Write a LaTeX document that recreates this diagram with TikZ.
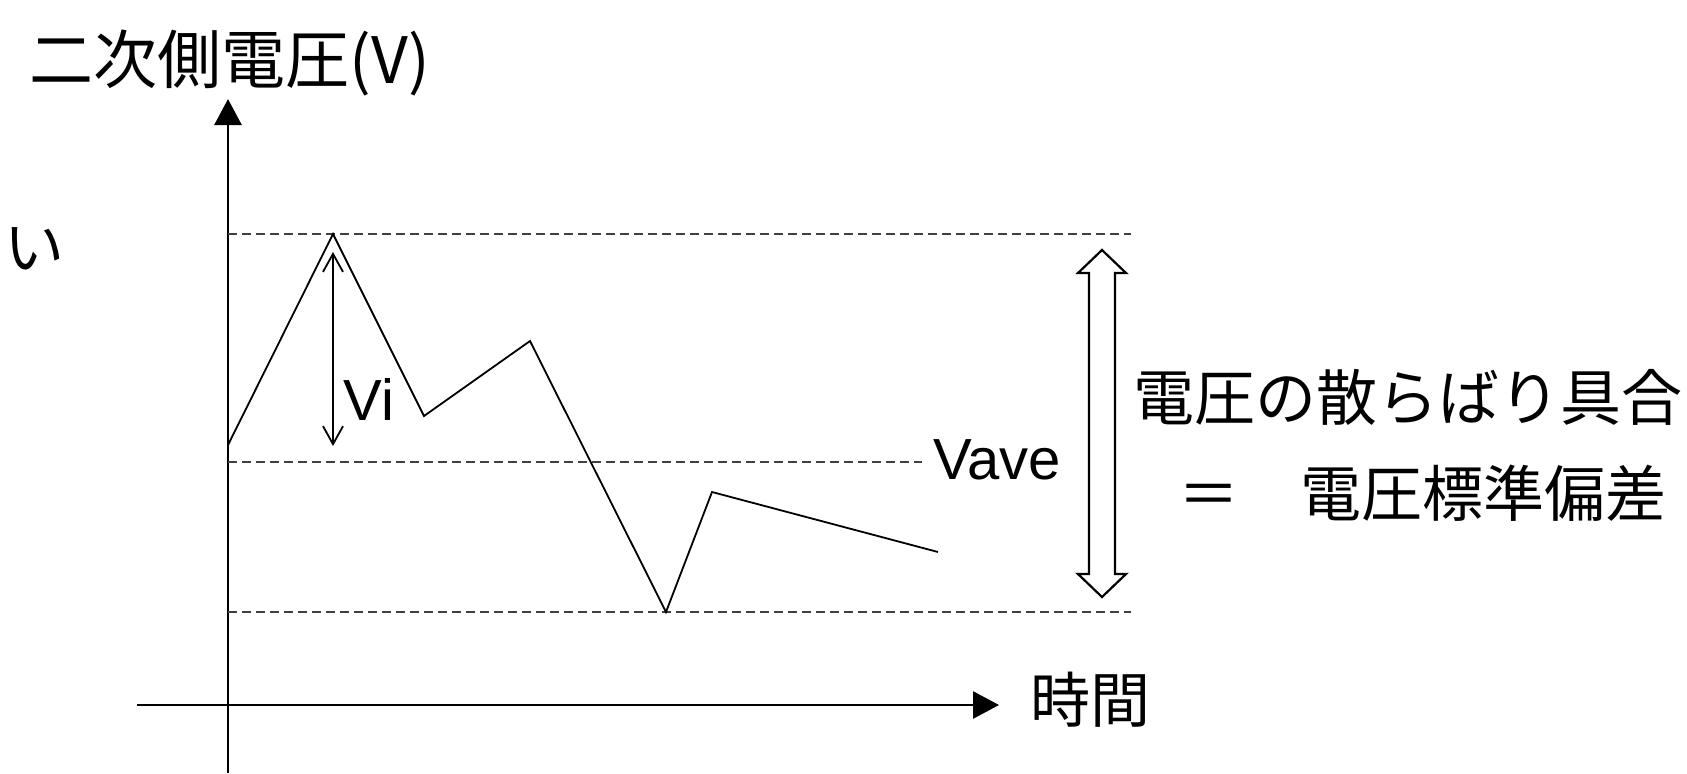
\documentclass[tikz,border=0pt]{standalone}
\usepackage{fontspec}
\setmainfont{Liberation Sans}
\newfontfamily\jpfont{Noto Sans CJK JP}
\usetikzlibrary{arrows.meta}
\tikzset{
         axisline/.style={line width=1.4pt,-{Triangle[length=13pt,width=13.5pt]}},
         guideline/.style={line width=0.9pt,draw=black!75,dash pattern=on 4.5pt off 2.5pt},
         signal/.style={line width=0.9pt,line join=miter},
         jplabel/.style={font=\jpfont\fontsize{30.5}{36}\selectfont,inner sep=0pt},
         vlabel/.style={font=\fontsize{29}{34}\selectfont,inner sep=0pt}
        }

\begin{document}
\begin{tikzpicture}[x=0.5pt,y=-0.5pt]
      \useasboundingbox (0,0) rectangle (1687,773);
      % axes
      \coordinate (ybot) at (228,773);
      \coordinate (ytop) at (228,99);
      \coordinate (xleft) at (137,705);
      \coordinate (xright) at (999,705);
      \draw[axisline] (ybot) -- (ytop); % voltage axis
      \draw[axisline] (xleft) -- (xright); % time axis
      \node[jplabel,font=\jpfont\fontsize{32}{38}\selectfont] (ylab) at (230,63) {二次側電圧(V)};
      \node[jplabel,font=\jpfont\fontsize{30}{36}\selectfont] (xlab) at (1090,700) {時間};
      \node[jplabel,font=\jpfont\fontsize{30}{36}\selectfont,anchor=east] (cut) at (65,249) {い};
      % guide lines
      \coordinate (maxl) at (228,234);
      \coordinate (maxr) at (1131,234);
      \coordinate (avel) at (228,462);
      \coordinate (aver) at (922,462);
      \coordinate (minl) at (228,612);
      \coordinate (minr) at (1131,612);
      \draw[guideline] (maxl) -- (maxr); % maximum
      \draw[guideline] (avel) -- (aver); % average
      \draw[guideline] (minl) -- (minr); % minimum
      \node[vlabel] (vave) at (997,460) {Vave};
      % secondary voltage
      \coordinate (p0) at (228,445);
      \coordinate (p1) at (333,234);
      \coordinate (p2) at (424,416);
      \coordinate (p3) at (530,341);
      \coordinate (p4) at (666,612);
      \coordinate (p5) at (712,492);
      \coordinate (p6) at (938,552);
      \draw[signal] (p0) -- (p1) -- (p2) -- (p3) -- (p4) -- (p5) -- (p6);
      % deviation Vi
      \coordinate (vitop) at (333,252);
      \coordinate (vibot) at (333,446);
      \draw[line width=0.9pt,{Straight Barb[length=9pt,width=10pt]}-{Straight Barb[length=9pt,width=10pt]}] (vitop) -- (vibot);
      \node[vlabel] (vi) at (369,399) {Vi};
      % spread arrow
      \draw[line width=1.1pt,line join=miter] (1102,250) -- (1126,273) -- (1115,273) -- (1115,574) -- (1126,574)
            -- (1102,597) -- (1078,574) -- (1089,574) -- (1089,273) -- (1078,273) -- cycle;
      \node[jplabel] (spread) at (1408,397) {電圧の散らばり具合};
      \node[jplabel,anchor=east] (stdev) at (1667,493) {＝　電圧標準偏差};
\end{tikzpicture}
\end{document}
